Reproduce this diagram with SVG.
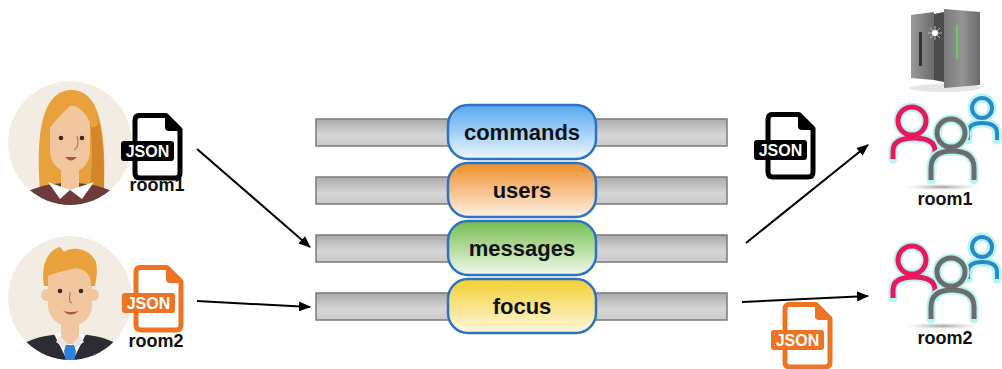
<svg xmlns="http://www.w3.org/2000/svg" width="1002" height="369" viewBox="0 0 1002 369">
  <style>
    .lbl { font-family: "Liberation Sans", Arial, sans-serif; font-weight: bold; fill: #111; text-anchor: middle; }
    .pill-text { font-size: 22px; }
    .room { font-size: 18px; }
    .bar { fill: url(#barGrad); stroke: #7a7a7a; stroke-width: 1.5; }
    .pill { stroke: #2a72c4; stroke-width: 2.5; }
    .conn { stroke: #000; stroke-width: 2; fill: none; marker-end: url(#arrow); }
    .json-tag { font-family: "Liberation Sans", Arial, sans-serif; font-weight: bold; font-size: 16px; fill: #fff; text-anchor: middle; }
    .halo { fill: none; stroke: #b8f4f4; stroke-width: 9; stroke-linecap: round; }
    .skin { fill: #f2c7a0; }
    .eye { fill: #3a2a25; }
  </style>
  <defs>
    <marker id="arrow" markerWidth="12" markerHeight="10" refX="11" refY="5" orient="auto" markerUnits="userSpaceOnUse">
      <path d="M0,0 L12,5 L0,10 Z" fill="#000"/>
    </marker>
    <linearGradient id="barGrad" x1="0" y1="0" x2="0" y2="1">
      <stop offset="0" stop-color="#aaaaaa"/>
      <stop offset="0.6" stop-color="#d6d6d6"/>
      <stop offset="1" stop-color="#c9c9c9"/>
    </linearGradient>
    <linearGradient id="gBlue" x1="0" y1="0" x2="0" y2="1">
      <stop offset="0" stop-color="#55a8f2"/>
      <stop offset="1" stop-color="#eef6fd"/>
    </linearGradient>
    <linearGradient id="gOrange" x1="0" y1="0" x2="0" y2="1">
      <stop offset="0" stop-color="#f08e28"/>
      <stop offset="1" stop-color="#fdf1e6"/>
    </linearGradient>
    <linearGradient id="gGreen" x1="0" y1="0" x2="0" y2="1">
      <stop offset="0" stop-color="#74bd4c"/>
      <stop offset="1" stop-color="#f1f9ec"/>
    </linearGradient>
    <linearGradient id="gYellow" x1="0" y1="0" x2="0" y2="1">
      <stop offset="0" stop-color="#f3cf2e"/>
      <stop offset="1" stop-color="#fdf8e0"/>
    </linearGradient>
    <linearGradient id="srvL" x1="0" y1="0" x2="1" y2="0">
      <stop offset="0" stop-color="#9a9a9a"/>
      <stop offset="1" stop-color="#6c6c6c"/>
    </linearGradient>
    <linearGradient id="srvR" x1="0" y1="0" x2="1" y2="0">
      <stop offset="0" stop-color="#7a7a7a"/>
      <stop offset="0.5" stop-color="#959595"/>
      <stop offset="1" stop-color="#6a6a6a"/>
    </linearGradient>
    <radialGradient id="shadowGrad">
      <stop offset="0" stop-color="#9a9a9a"/>
      <stop offset="1" stop-color="#e4e4e4" stop-opacity="0"/>
    </radialGradient>
    <clipPath id="clipW"><circle cx="70" cy="143" r="62"/></clipPath>
    <clipPath id="clipM"><circle cx="70" cy="298" r="62"/></clipPath>

    <!-- JSON document icon, coloured through currentColor -->
    <g id="jsonDoc">
      <path d="M17,2.5 H44 L58,16.5 V60 Q58,65 53,65 H18 Q13,65 13,60 V7.5 Q13,2.5 17,2.5 Z" fill="none" stroke="currentColor" stroke-width="5" stroke-linejoin="round"/>
      <path d="M43,3 V14 Q43,18 47,18 H58 Z" fill="currentColor"/>
      <rect x="-1" y="28" width="53" height="20" rx="3" fill="currentColor"/>
      <text class="json-tag" x="25.5" y="44">JSON</text>
    </g>

    <!-- group of three people -->
    <g id="people">
      <!-- blue -->
      <circle cx="982" cy="108" r="10" class="halo"/>
      <path d="M968,140 V133 Q968,123 982,123 Q997,123 997,133 V140" class="halo"/>
      <circle cx="982" cy="108" r="10" fill="none" stroke="#2a8ac8" stroke-width="4"/>
      <path d="M968,140 V133 Q968,123 982,123 Q997,123 997,133 V140" fill="none" stroke="#2a8ac8" stroke-width="4"/>
      <!-- pink -->
      <circle cx="912" cy="121" r="14" class="halo"/>
      <path d="M893,159 V151 Q893,138 914,138 Q935,138 935,151 V159" class="halo"/>
      <circle cx="912" cy="121" r="14" fill="none" stroke="#e8185a" stroke-width="5"/>
      <path d="M893,159 V151 Q893,138 914,138 Q935,138 935,151 V159" fill="none" stroke="#e8185a" stroke-width="5"/>
      <!-- gray -->
      <circle cx="951" cy="133" r="14" class="halo"/>
      <path d="M931,180 V168 Q931,151 952,151 Q974,151 974,168 V180" class="halo"/>
      <circle cx="951" cy="133" r="14" fill="none" stroke="#6c6c6c" stroke-width="5"/>
      <path d="M931,180 V168 Q931,151 952,151 Q974,151 974,168 V180" fill="none" stroke="#6c6c6c" stroke-width="5"/>
      <!-- floor shadow -->
      <ellipse cx="942" cy="187" rx="40" ry="3.5" fill="url(#shadowGrad)"/>
    </g>
  </defs>

  <!-- user avatar: woman -->
  <g id="user-woman">
    <g clip-path="url(#clipW)">
      <circle cx="70" cy="143" r="62" fill="#f3ece2"/>
      <path d="M40,190 C36,140 40,92 70,90 C100,89 106,130 104,190 Z" fill="#e9a23b"/>
      <path d="M84,98 C100,106 105,140 104,190 L90,190 C94,150 92,118 84,98 Z" fill="#d5852a"/>
      <path d="M8,215 C14,192 40,183 70,183 C100,183 126,192 132,215 Z" fill="#6d3a3e"/>
      <rect x="61" y="160" width="18" height="30" class="skin"/>
      <path d="M48,182 L70,190 L60,199 Z" fill="#fff"/>
      <path d="M94,182 L70,190 L82,199 Z" fill="#fff"/>
      <path d="M50,122 C50,110 60,106 72,106 C84,106 90,112 90,125 L90,150 C90,165 80,172 70,172 C58,172 50,162 50,150 Z" class="skin"/>
      <path d="M47,132 C46,104 60,93 74,93 C90,93 98,106 98,125 L92,128 C88,114 80,108 72,104 C64,112 55,120 47,132 Z" fill="#e9a23b"/>
      <circle cx="61" cy="138" r="2.3" class="eye"/>
      <circle cx="82" cy="138" r="2.3" class="eye"/>
      <path d="M77,136 C79,142 78,148 74,150" fill="none" stroke="#b57a5a" stroke-width="1.2"/>
      <path d="M65,157 Q71,164 77,157 Z" fill="#a5574c"/>
    </g>
  </g>

  <!-- user avatar: man -->
  <g id="user-man">
    <g clip-path="url(#clipM)">
      <circle cx="70" cy="298" r="62" fill="#f3ece2"/>
      <path d="M6,372 C10,344 34,334 70,334 C106,334 130,344 134,372 Z" fill="#2c2c33"/>
      <path d="M54,334 L70,366 L86,334 Z" fill="#fff"/>
      <rect x="61" y="314" width="18" height="30" class="skin"/>
      <path d="M60,336 L70,346 L80,336 L84,342 L70,352 L56,342 Z" fill="#e6e6e6"/>
      <path d="M66,345 L74,345 L76,351 L73,370 L67,370 L64,351 Z" fill="#2f80d6"/>
      <circle cx="47" cy="295" r="6" class="skin"/>
      <circle cx="93" cy="295" r="6" class="skin"/>
      <path d="M48,275 C48,262 58,258 70,258 C82,258 92,262 92,275 L92,305 C92,318 82,326 70,326 C58,326 48,318 48,305 Z" class="skin"/>
      <path d="M44,286 C40,262 50,249 60,247 L64,252 C72,246 90,248 96,262 C98,272 96,280 95,286 L91,286 C91,274 86,270 76,268 C66,271 56,272 48,276 L48,286 Z" fill="#e9a23b"/>
      <circle cx="60" cy="291" r="2.3" class="eye"/>
      <circle cx="81" cy="291" r="2.3" class="eye"/>
      <path d="M70,292 C70,298 68,302 72,303" fill="none" stroke="#b57a5a" stroke-width="1.2"/>
      <path d="M63,311 Q71,318 79,311 Q71,313 63,311 Z" fill="#a5574c"/>
    </g>
  </g>

  <!-- JSON payloads and room labels -->
  <g id="json-room1-in" style="color:#000">
    <use href="#jsonDoc" x="122" y="113"/>
    <text class="lbl room" x="157" y="191">room1</text>
  </g>
  <g id="json-room2-in" style="color:#ec7424">
    <use href="#jsonDoc" x="123" y="265"/>
    <text class="lbl room" x="156" y="347">room2</text>
  </g>
  <g id="json-room1-out" style="color:#000">
    <use href="#jsonDoc" x="755" y="112"/>
  </g>
  <g id="json-room2-out" style="color:#ec7424">
    <use href="#jsonDoc" x="772" y="302"/>
  </g>

  <!-- channel bars -->
  <g id="bars">
    <rect class="bar" x="316" y="119" width="411" height="27"/>
    <rect class="bar" x="316" y="177" width="411" height="27"/>
    <rect class="bar" x="316" y="235" width="411" height="27"/>
    <rect class="bar" x="316" y="293" width="411" height="27"/>
  </g>

  <!-- channels -->
  <g id="ch-commands">
    <rect class="pill" x="448" y="105" width="148" height="54" rx="20" fill="url(#gBlue)"/>
    <text class="lbl pill-text" x="522" y="140">commands</text>
  </g>
  <g id="ch-users">
    <rect class="pill" x="448" y="163" width="148" height="54" rx="20" fill="url(#gOrange)"/>
    <text class="lbl pill-text" x="522" y="198">users</text>
  </g>
  <g id="ch-messages">
    <rect class="pill" x="448" y="221" width="148" height="54" rx="20" fill="url(#gGreen)"/>
    <text class="lbl pill-text" x="522" y="256">messages</text>
  </g>
  <g id="ch-focus">
    <rect class="pill" x="448" y="279" width="148" height="54" rx="20" fill="url(#gYellow)"/>
    <text class="lbl pill-text" x="522" y="314">focus</text>
  </g>

  <!-- server -->
  <g id="server">
    <ellipse cx="945" cy="88" rx="36" ry="4" fill="#dcdcdc" opacity="0.7"/>
    <polygon points="911,15 934,12 934,80 911,78" fill="url(#srvL)"/>
    <polygon points="934,14 944,12 944,82 934,80" fill="#4c4c4c"/>
    <polygon points="944,9 980,12 980,85 944,88" fill="url(#srvR)"/>
    <rect x="919" y="32" width="3" height="34" fill="#333"/>
    <rect x="956" y="25" width="2" height="34" fill="#62cf5e"/>
    <circle cx="935" cy="33" r="3" fill="#fff"/>
    <path d="M928,33 H942 M935,26 V40 M930,28 L940,38 M940,28 L930,38" stroke="#fff" stroke-width="0.7" opacity="0.8"/>
  </g>

  <!-- rooms -->
  <g id="room1">
    <use href="#people"/>
    <text class="lbl room" x="945" y="205">room1</text>
  </g>
  <g id="room2">
    <use href="#people" y="139"/>
    <text class="lbl room" x="945" y="344">room2</text>
  </g>

  <!-- connectors -->
  <g id="connectors">
    <line class="conn" x1="197" y1="149" x2="310" y2="247"/>
    <line class="conn" x1="197" y1="301" x2="310" y2="307"/>
    <line class="conn" x1="746" y1="243" x2="868" y2="145"/>
    <line class="conn" x1="742" y1="302" x2="868" y2="296"/>
  </g>
</svg>
